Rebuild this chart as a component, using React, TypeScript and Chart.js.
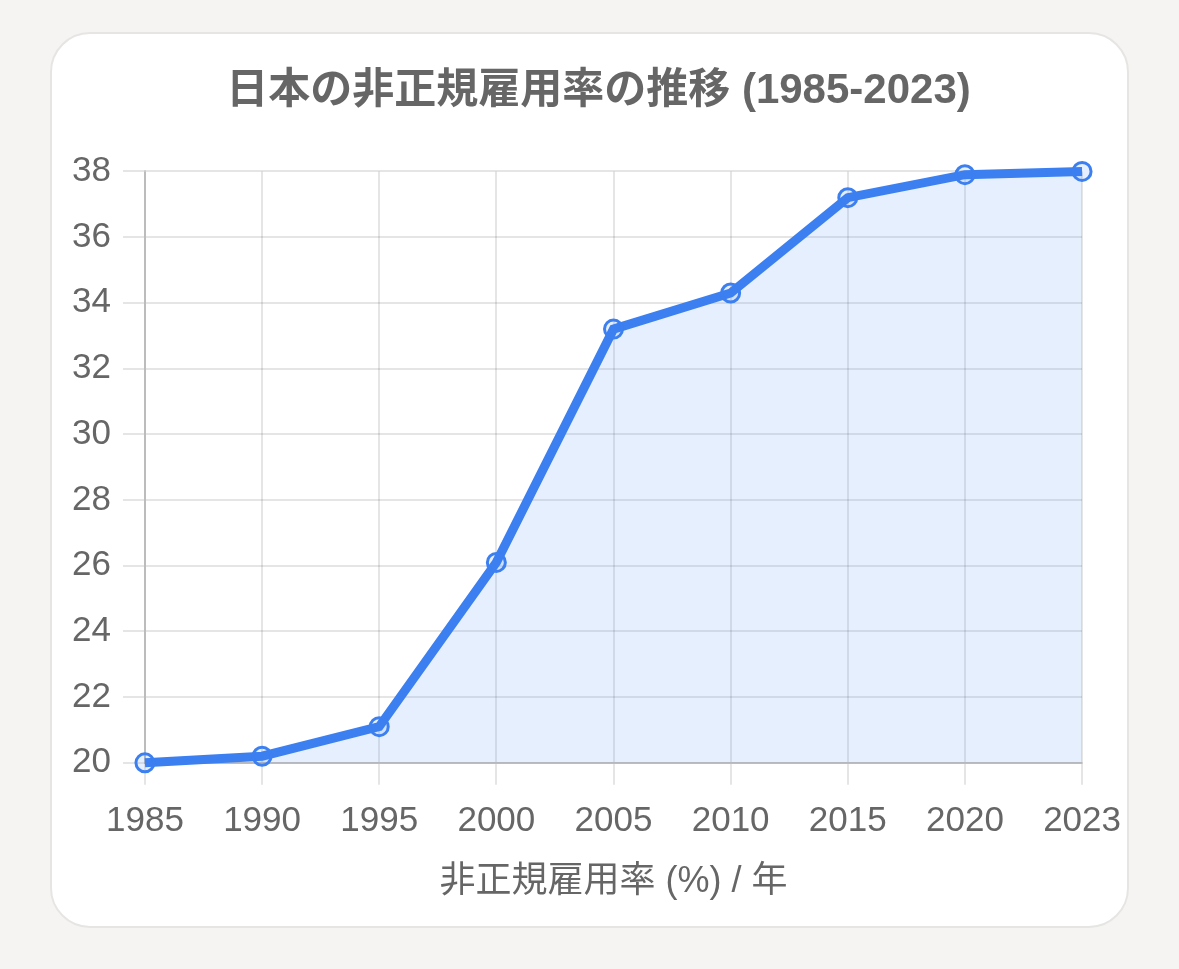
import React, { useEffect, useRef } from "react";
import { Chart, registerables } from "chart.js";

Chart.register(...registerables);

const years = ["1985", "1990", "1995", "2000", "2005", "2010", "2015", "2020", "2023"];
const rates = [20.0, 20.2, 21.1, 26.1, 33.2, 34.3, 37.2, 37.9, 38.0];

const FONT = "'Liberation Sans', Arial, 'Noto Sans CJK JP', sans-serif";
const BLUE = "#3b7ff0";

export default function App() {
    const canvasRef = useRef<HTMLCanvasElement | null>(null);
    const chartRef = useRef<Chart | null>(null);

    useEffect(() => {
        if (!canvasRef.current) return;
        const ctx = canvasRef.current.getContext("2d");
        if (!ctx) return;

        if (chartRef.current) {
            chartRef.current.destroy();
        }

        chartRef.current = new Chart(ctx, {
            type: "line",
            data: {
                labels: years,
                datasets: [
                    {
                        label: "非正規雇用率 (%)",
                        data: rates,
                        borderColor: BLUE,
                        backgroundColor: "rgba(59,130,246,0.13)",
                        borderWidth: 9,
                        fill: "origin",
                        tension: 0,
                        clip: false,
                        pointRadius: 9,
                        pointBorderWidth: 3,
                        pointBorderColor: BLUE,
                        pointBackgroundColor: "rgba(59,130,246,0.13)",
                    },
                ],
            },
            options: {
                animation: false,
                responsive: true,
                maintainAspectRatio: false,
                layout: {
                    padding: { left: 8, right: 0, top: 32, bottom: 3 },
                },
                plugins: {
                    legend: { display: false },
                    tooltip: { enabled: false },
                    title: {
                        display: true,
                        text: "日本の非正規雇用率の推移 (1985-2023)",
                        color: "#666",
                        font: { family: FONT, size: 42, weight: "bold" },
                        padding: { top: 0, bottom: 55 },
                    },
                },
                scales: {
                    x: {
                        offset: false,
                        ticks: {
                            color: "#666",
                            font: { family: FONT, size: 35 },
                            padding: 16,
                            maxRotation: 0,
                        },
                        grid: {
                            color: "rgba(0,0,0,0.1)",
                            lineWidth: 2,
                            tickLength: 22,
                        },
                        border: { color: "rgba(0,0,0,0.18)", width: 2 },
                        title: {
                            display: true,
                            text: "非正規雇用率 (%) / 年",
                            color: "#666",
                            font: { family: FONT, size: 36 },
                            padding: { top: 2, bottom: 19 },
                        },
                    },
                    y: {
                        min: 20,
                        max: 38,
                        ticks: {
                            stepSize: 2,
                            color: "#666",
                            font: { family: FONT, size: 35 },
                            padding: 12,
                        },
                        grid: {
                            color: "rgba(0,0,0,0.1)",
                            lineWidth: 2,
                            tickLength: 22,
                        },
                        border: { color: "rgba(0,0,0,0.18)", width: 2 },
                    },
                },
            },
        });

        return () => {
            chartRef.current?.destroy();
            chartRef.current = null;
        };
    }, []);

    return (
        <div
            style={{
                position: "fixed",
                inset: 0,
                background: "#f5f4f2",
            }}
        >
            <div
                style={{
                    position: "absolute",
                    left: 50,
                    top: 32,
                    width: 1079,
                    height: 896,
                    boxSizing: "border-box",
                    background: "#fff",
                    border: "2px solid #e6e5e3",
                    borderRadius: 40,
                }}
            >
                <div style={{ position: "absolute", top: 0, left: 0, bottom: 0, right: -10 }}>
                    <canvas ref={canvasRef}></canvas>
                </div>
            </div>
        </div>
    );
}
